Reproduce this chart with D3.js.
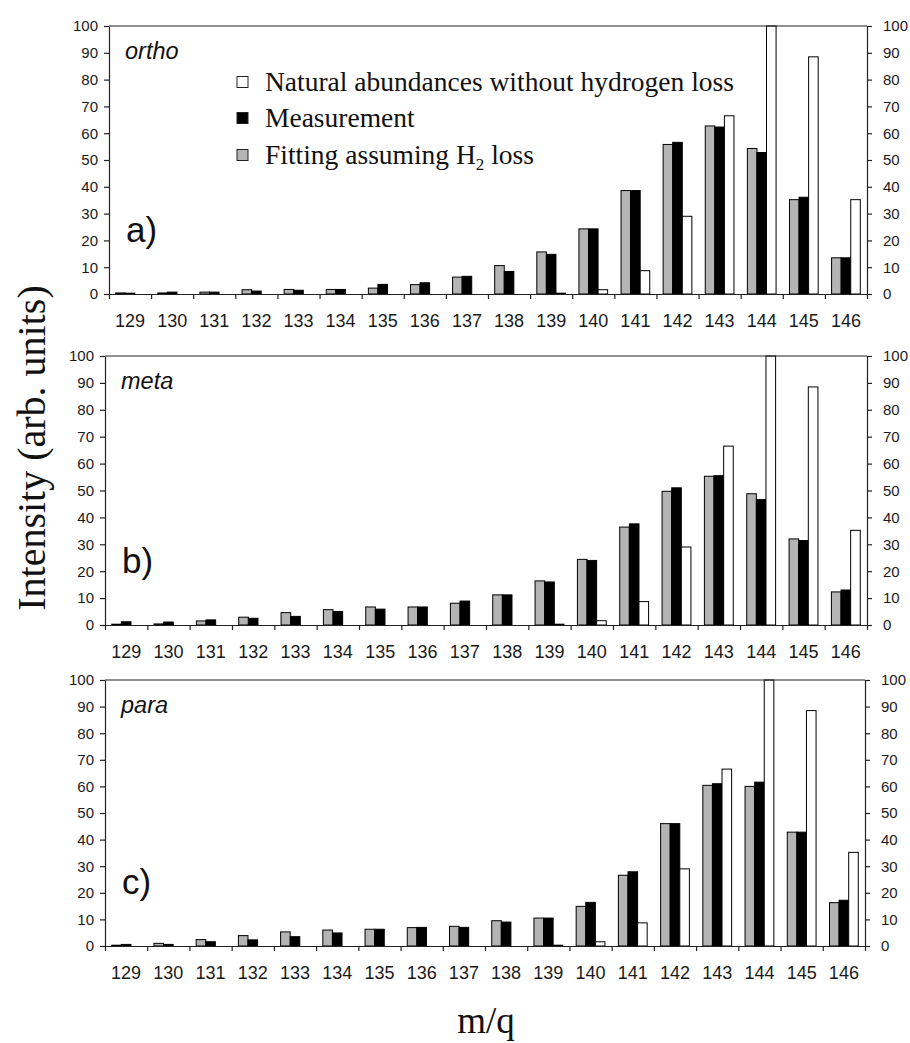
<!DOCTYPE html>
<html>
<head>
<meta charset="utf-8">
<script src="https://cdn.jsdelivr.net/npm/d3@7"></script>
<style>
  body { margin: 0; background: #fff; }
  svg { display: block; }
</style>
</head>
<body>
<svg id="chart" width="910" height="1043"></svg>
<script>
// m/q channels
const massLabels = ["129","130","131","132","133","134","135","136","137","138","139","140","141","142","143","144","145","146"];
const yTicks = [0,10,20,30,40,50,60,70,80,90,100];

// Natural isotope abundances without hydrogen loss (same for all isomers)
const natural = [0,0,0,0,0,0,0,0,0,0,0.3,1.6,8.7,29,66.5,100,88.5,35.2];

// ortho
const orthoFit  = [0.4,0.4,0.7,1.6,1.7,1.7,2.2,3.5,6.3,10.6,15.7,24.3,38.6,55.8,62.7,54.3,35.2,13.5];
const orthoMeas = [0.3,0.7,0.7,1.1,1.4,1.7,3.6,4.2,6.6,8.4,14.8,24.3,38.6,56.6,62.3,52.8,36.1,13.5];

// meta
const metaFit  = [0.3,0.4,1.5,2.9,4.6,5.7,6.7,6.7,8.1,11.2,16.4,24.4,36.4,49.7,55.3,48.8,32.0,12.3];
const metaMeas = [1.2,1.1,1.9,2.5,3.2,5.0,5.9,6.7,8.9,11.2,16.0,24.0,37.6,51.0,55.5,46.6,31.4,13.0];

// para
const paraFit  = [0.3,1.0,2.4,3.9,5.3,6.0,6.3,6.9,7.4,9.5,10.5,14.9,26.6,46.0,60.4,60.0,42.8,16.3];
const paraMeas = [0.6,0.6,1.6,2.3,3.5,4.9,6.3,7.0,7.0,9.0,10.5,16.4,27.9,46.0,61.0,61.6,42.8,17.2];

const legendLabels = ["Natural abundances without hydrogen loss", "Measurement", "Fitting assuming H"];

const panels = [
  { name: "ortho", tag: "a)", fit: orthoFit, meas: orthoMeas, top: 26,  bottom: 294, left: 109, right: 867 },
  { name: "meta",  tag: "b)", fit: metaFit,  meas: metaMeas,  top: 356, bottom: 625, left: 105, right: 867 },
  { name: "para",  tag: "c)", fit: paraFit,  meas: paraMeas,  top: 680, bottom: 946, left: 105, right: 865 }
];

const colors = { fit: "#b4b4b4", meas: "#000000", nat: "#ffffff" };
const sans = "'Liberation Sans', Arial, sans-serif";
const serif = "'Liberation Serif', 'Times New Roman', serif";

const svg = d3.select("#chart");

panels.forEach(p => {
  const g = svg.append("g");

  const x = d3.scaleBand().domain(massLabels).range([p.left, p.right]).padding(0);
  const xEdges = d3.scaleLinear().domain([0, massLabels.length]).range([p.left, p.right]);
  const inner = d3.scaleBand().domain(["fit", "meas", "nat"]).range([0, x.bandwidth()]).paddingOuter(0.7);
  const y = d3.scaleLinear().domain([0, 100]).range([p.bottom, p.top]);

  const rows = massLabels.map((m, i) => ({ m, fit: p.fit[i], meas: p.meas[i], nat: natural[i] }));

  // bars
  ["fit", "meas", "nat"].forEach(key => {
    g.append("g").selectAll("rect")
      .data(rows.filter(r => r[key] > 0))
      .join("rect")
      .attr("x", d => x(d.m) + inner(key))
      .attr("y", d => y(d[key]))
      .attr("width", inner.bandwidth())
      .attr("height", d => y(0) - y(d[key]))
      .attr("fill", colors[key])
      .attr("stroke", "#000")
      .attr("stroke-width", 1);
  });

  // top frame line
  g.append("line")
    .attr("x1", p.left).attr("x2", p.right)
    .attr("y1", p.top).attr("y2", p.top)
    .attr("stroke", "#222").attr("stroke-width", 1.2);

  // left axis
  const ax = g.append("g")
    .attr("transform", `translate(${p.left},0)`)
    .call(d3.axisLeft(y).tickValues(yTicks).tickSize(5).tickSizeOuter(0).tickPadding(6));
  // right axis
  const ar = g.append("g")
    .attr("transform", `translate(${p.right},0)`)
    .call(d3.axisRight(y).tickValues(yTicks).tickSize(5).tickSizeOuter(0).tickPadding(11));
  [ax, ar].forEach(a => {
    a.selectAll("text").attr("font-family", sans).attr("font-size", 15).attr("fill", "#1a1a1a");
    a.selectAll("path, line").attr("stroke", "#222").attr("stroke-width", 1.2);
  });

  // bottom axis: tick marks at channel boundaries
  const ab = g.append("g")
    .attr("transform", `translate(0,${p.bottom})`)
    .call(d3.axisBottom(xEdges).tickValues(d3.range(massLabels.length + 1)).tickFormat("").tickSize(5).tickSizeOuter(0));
  ab.selectAll("path, line").attr("stroke", "#222").attr("stroke-width", 1.2);

  // channel labels
  const al = g.append("g")
    .attr("transform", `translate(0,${p.bottom})`)
    .call(d3.axisBottom(x).tickSize(0).tickPadding(20));
  al.select(".domain").remove();
  al.selectAll("text").attr("font-family", sans).attr("font-size", 18).attr("fill", "#1a1a1a");

  // isomer name and panel tag
  g.append("text")
    .attr("x", p.left + 16).attr("y", p.top + 33)
    .attr("font-family", sans).attr("font-style", "italic").attr("font-size", 23.5)
    .attr("fill", "#111")
    .text(p.name);
  g.append("text")
    .attr("x", p.left + 17).attr("y", p.bottom - 52)
    .attr("font-family", sans).attr("font-size", 35)
    .attr("fill", "#111")
    .text(p.tag);
});

// legend (top panel)
const legend = svg.append("g").attr("transform", "translate(237,0)");
const legendItems = [
  { label: legendLabels[0], fill: colors.nat, cy: 82 },
  { label: legendLabels[1], fill: colors.meas, cy: 118 },
  { label: legendLabels[2], fill: colors.fit, cy: 155 }
];
legendItems.forEach((it, i) => {
  legend.append("rect")
    .attr("x", 0).attr("y", it.cy - 5.5)
    .attr("width", 11).attr("height", 11)
    .attr("fill", it.fill).attr("stroke", "#222").attr("stroke-width", 1);
  const t = legend.append("text")
    .attr("x", 28).attr("y", it.cy + 9)
    .attr("font-family", serif).attr("font-size", 27.5).attr("fill", "#111")
    .text(it.label);
  if (i === 2) {
    t.append("tspan").attr("font-size", 17).attr("dy", 6).text("2");
    t.append("tspan").attr("dy", -6).text(" loss");
  }
});

// axis titles
svg.append("text")
  .attr("transform", "translate(45,448) rotate(-90)")
  .attr("text-anchor", "middle")
  .attr("font-family", serif).attr("font-size", 40).attr("fill", "#111")
  .text("Intensity (arb. units)");

svg.append("text")
  .attr("x", 486).attr("y", 1033)
  .attr("text-anchor", "middle")
  .attr("font-family", serif).attr("font-size", 37).attr("fill", "#111")
  .text("m/q");
</script>
</body>
</html>
